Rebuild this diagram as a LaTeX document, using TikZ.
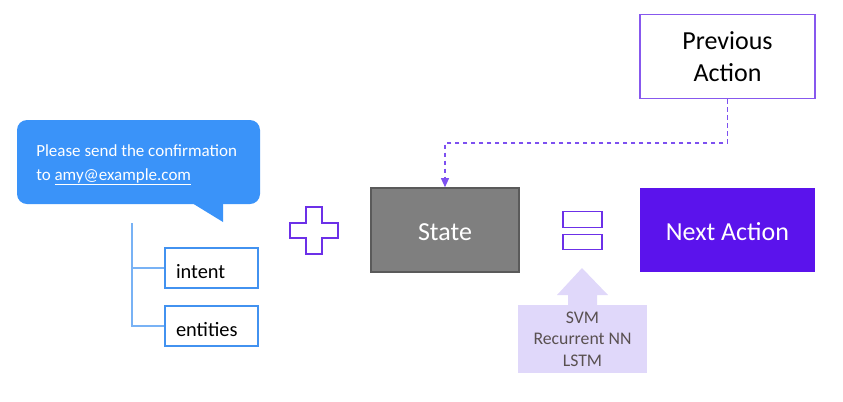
\documentclass[tikz,border=0pt]{standalone}
\usepackage{fontspec}
\setmainfont{Carlito}
\usetikzlibrary{arrows.meta}
\definecolor{bubbleblue}{RGB}{58,147,249}
\definecolor{boxblue}{RGB}{66,146,240}
\definecolor{treeblue}{RGB}{120,178,245}
\definecolor{violetline}{RGB}{108,48,232}
\definecolor{prevline}{RGB}{135,88,238}
\definecolor{nextfill}{RGB}{91,19,236}
\definecolor{statefill}{RGB}{127,127,127}
\definecolor{stateline}{RGB}{90,90,90}
\definecolor{lavender}{RGB}{224,216,250}
\definecolor{dashcol}{RGB}{125,80,240}
\definecolor{modeltext}{RGB}{89,80,80}
\newcommand{\lowertext}[2]{\raisebox{-#1}[\height][\depth]{#2}}
\tikzset{
  slotbox/.style={draw=boxblue, line width=1.1pt, fill=white, minimum width=93*0.75pt, minimum height=40*0.75pt, inner ysep=0pt, inner xsep=11*0.75pt, text width=71*0.75pt, align=left, font=\fontsize{15.3}{18}\selectfont, text=black},
  bigbox/.style={minimum width=175*0.75pt, minimum height=84*0.75pt, inner sep=0pt, align=center, font=\fontsize{19.5}{24}\selectfont},
  eqbar/.style={draw=violetline, line width=1.1pt, fill=white, minimum width=39*0.75pt, minimum height=15.5*0.75pt, inner sep=0pt},
  treeline/.style={draw=treeblue, line width=1.3pt},
}
\begin{document}
\begin{tikzpicture}[x=0.75pt, y=-0.75pt]
\useasboundingbox (0,0) rectangle (843,401);
% speech bubble
\fill[bubbleblue] (192,203) -- (223,222) -- (223,203) -- cycle;
\node[fill=bubbleblue, rounded corners=10*0.75pt, minimum width=243*0.75pt, minimum height=84*0.75pt, inner sep=0pt] (bubble) at (138.5,162) {};
\node[text=white, anchor=north west, align=left, inner sep=0pt, font=\fontsize{12.75}{18}\selectfont] (msg) at (36,144) {Please send the confirmation\\to \underline{amy@example.com}};
% tree
\coordinate (t0) at (132,223);
\node[slotbox] (intent) at (211.5,268) {\lowertext{3pt}{intent}};
\node[slotbox] (entities) at (211.5,326) {\lowertext{3pt}{entities}};
\draw[treeline] (t0) |- (intent.west);
\draw[treeline] (t0) |- (entities.west);
% plus
\draw[violetline, line width=1.1pt] (306,207) -- (322,207) -- (322,223) -- (338,223) -- (338,238) -- (322,238) -- (322,254) -- (306,254) -- (306,238) -- (290,238) -- (290,223) -- (306,223) -- cycle;
% state
\node[bigbox, draw=stateline, line width=1pt, fill=statefill, text=white, minimum width=148*0.75pt] (state) at (445,230) {\lowertext{1.5pt}{State}};
% equals
\node[eqbar] (eqa) at (582.5,219.5) {};
\node[eqbar] (eqb) at (582.5,242) {};
% block arrow and models
\fill[lavender] (582,268) -- (608,295) -- (597,295) -- (597,306) -- (568,306) -- (568,295) -- (557,295) -- cycle;
\node[fill=lavender, minimum width=129*0.75pt, minimum height=68*0.75pt, inner sep=0pt, align=center, text=modeltext, font=\fontsize{13.3}{16.2}\selectfont] (models) at (582.5,339) {SVM\\Recurrent NN\\LSTM};
% next action
\node[bigbox, fill=nextfill, text=white] (next) at (727.5,230) {\lowertext{1.5pt}{Next Action}};
% previous action
\node[bigbox, draw=prevline, line width=1.1pt, fill=white, text=black] (prev) at (727.5,56.5) {Previous\\Action};
% dashed connector
\draw[dashcol, line width=1.1pt, dash pattern=on 3.5pt off 2.5pt, -{Triangle[length=7pt,width=6pt]}] (prev.south) -- (prev.south |- 0,143) -| (state.north);
\end{tikzpicture}
\end{document}
